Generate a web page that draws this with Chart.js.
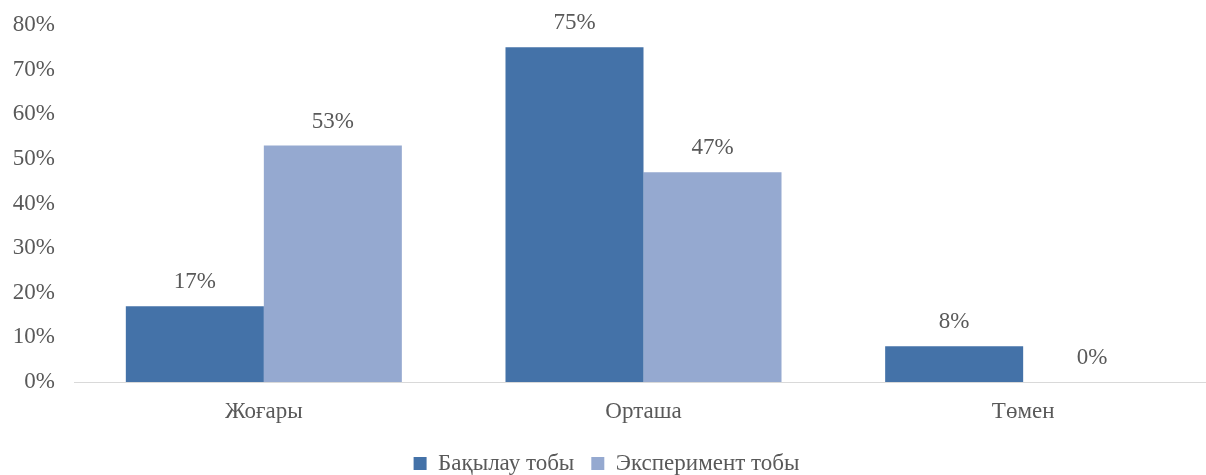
<!DOCTYPE html>
<html>
<head>
<meta charset="utf-8">
<script src="https://cdn.jsdelivr.net/npm/chart.js@4"></script>
<style>
  html, body { margin: 0; padding: 0; background: #fff; overflow: hidden; }
  #wrap { width: 1213px; height: 475px; }
</style>
</head>
<body>
<div id="wrap"><canvas id="chart"></canvas></div>
<script>
const categories = ['Жоғары', 'Орташа', 'Төмен'];
const seriesNames = ['Бақылау тобы', 'Эксперимент тобы'];
const controlValues = [17, 75, 8];
const experimentValues = [53, 47, 0];
const yTicks = [0, 10, 20, 30, 40, 50, 60, 70, 80];

const textColor = '#595959';
const fontFamily = '"Liberation Serif", "Times New Roman", serif';

// draws the value above each bar
const valueLabels = {
    id: 'valueLabels',
    afterDatasetsDraw(chart) {
        const ctx = chart.ctx;
        ctx.save();
        ctx.fillStyle = textColor;
        ctx.font = '23px ' + fontFamily;
        ctx.textAlign = 'center';
        ctx.textBaseline = 'middle';
        chart.data.datasets.forEach((ds, i) => {
            chart.getDatasetMeta(i).data.forEach((bar, j) => {
                ctx.fillText(ds.data[j] + '%', bar.x, bar.y - 24);
            });
        });
        ctx.restore();
    }
};

// keep the legend box short so the plot can go lower
const legendHeight = {
    id: 'legendHeight',
    beforeLayout(chart) {
        const lg = chart.legend;
        if (lg && !lg._patched) {
            const fit = lg.fit;
            lg.fit = function () { fit.call(this); this.height = 40; };
            lg._patched = true;
        }
    }
};

const config = {
    type: 'bar',
    data: {
        labels: categories,
        datasets: [{
            label: seriesNames[0],
            data: controlValues,
            backgroundColor: '#4472A8'
        }, {
            label: seriesNames[1],
            data: experimentValues,
            backgroundColor: '#95A9D0'
        }]
    },
    options: {
        responsive: true,
        maintainAspectRatio: false,
        animation: false,
        layout: { padding: { top: 25, right: 0, left: 0, bottom: 0 } },
        datasets: {
            bar: { categoryPercentage: 0.727, barPercentage: 1 }
        },
        scales: {
            x: {
                afterFit(scale) {
                    scale.height = 53;
                    scale.paddingLeft = 0;
                    scale.paddingRight = 0;
                },
                grid: { display: false, drawTicks: false },
                border: { color: '#D9D9D9', width: 1 },
                ticks: { color: textColor, font: { family: fontFamily, size: 23 }, padding: 16 }
            },
            y: {
                min: 0,
                max: 80,
                afterBuildTicks(scale) {
                    scale.ticks = yTicks.map(v => ({ value: v }));
                },
                afterFit(scale) {
                    scale.width = 74;
                    scale.paddingTop = 0;
                    scale.paddingBottom = 0;
                },
                grid: { display: false, drawTicks: false },
                border: { display: false },
                ticks: {
                    color: textColor,
                    font: { family: fontFamily, size: 23 },
                    padding: 19,
                    callback: v => v + '%'
                }
            }
        },
        plugins: {
            legend: {
                position: 'bottom',
                labels: {
                    color: textColor,
                    font: { family: fontFamily, size: 23 },
                    boxWidth: 13,
                    boxHeight: 13,
                    padding: 17
                }
            },
            tooltip: { enabled: false }
        }
    },
    plugins: [valueLabels, legendHeight]
};

new Chart(document.querySelector('#chart').getContext('2d'), config);
</script>
</body>
</html>
